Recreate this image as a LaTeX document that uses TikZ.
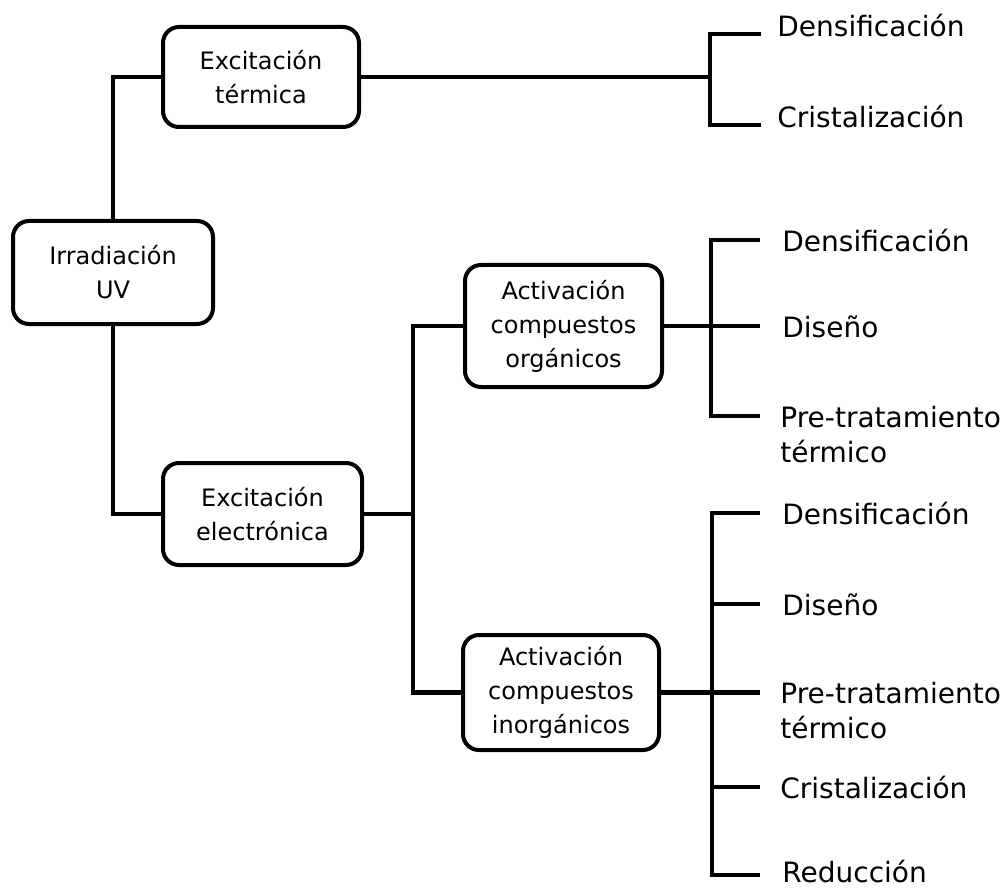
\documentclass[tikz,border=0pt]{standalone}
\usepackage{fontspec}
\setmainfont{DejaVu Sans}
\begin{document}
\begin{tikzpicture}[x=0.5pt,y=-0.5pt,
  box/.style={draw,line width=2pt,rounded corners=8pt,align=center,inner sep=2pt,
    font=\fontsize{12}{17}\selectfont},
  leaf/.style={anchor=base west,inner sep=0pt,font=\fontsize{14}{17.5}\selectfont},
  conn/.style={line width=2.1pt}]
\useasboundingbox (0,0) rectangle (1008,888);
% boxes
\node[box,minimum width=100pt,minimum height=51.5pt] (irr) at (113,272.5) {Irradiación\\UV};
\node[box,minimum width=98pt,minimum height=50pt] (term) at (261,77) {Excitación\\térmica};
\node[box,minimum width=99.5pt,minimum height=51pt] (elec) at (262.5,514) {Excitación\\electrónica};
\node[box,minimum width=98.5pt,minimum height=61pt] (org) at (563.5,326) {Activación\\compuestos\\orgánicos};
\node[box,minimum width=98pt,minimum height=57.5pt] (inorg) at (561,692.5) {Activación\\compuestos\\inorgánicos};
% junctions
\coordinate (jt) at (710,77);
\coordinate (je) at (413,514);
\coordinate (jo) at (711,326);
\coordinate (ji) at (712,692.5);
% leaf line ends
\coordinate (t1) at (761,34);
\coordinate (t2) at (761,125);
\coordinate (o1) at (760,240);
\coordinate (o2) at (760,326);
\coordinate (o3) at (760,416);
\coordinate (i1) at (760,513);
\coordinate (i2) at (760,604);
\coordinate (i3) at (760,692.5);
\coordinate (i4) at (760,787);
\coordinate (i5) at (760,875);
% leaves
\node[leaf,xshift=8pt,yshift=-1.5pt] (lt1) at (t1) {Densificación};
\node[leaf,xshift=8pt,yshift=-1.5pt] (lt2) at (t2) {Cristalización};
\node[leaf,xshift=11pt,yshift=-5.5pt] (lo1) at (o1) {Densificación};
\node[leaf,xshift=11pt,yshift=-5.5pt] (lo2) at (o2) {Diseño};
\node[leaf,xshift=10pt,yshift=-5.5pt] (lo3) at (o3) {\begin{tabular}[t]{@{}l@{}}Pre-tratamiento\\térmico\end{tabular}};
\node[leaf,xshift=11pt,yshift=-5.5pt] (li1) at (i1) {Densificación};
\node[leaf,xshift=11pt,yshift=-5.5pt] (li2) at (i2) {Diseño};
\node[leaf,xshift=10pt,yshift=-5.5pt] (li3) at (i3) {\begin{tabular}[t]{@{}l@{}}Pre-tratamiento\\térmico\end{tabular}};
\node[leaf,xshift=10pt,yshift=-5.5pt] (li4) at (i4) {Cristalización};
\node[leaf,xshift=11pt,yshift=-3.5pt] (li5) at (i5) {Reducción};
% connectors
\draw[conn] (irr.north) |- (term.west);
\draw[conn] (irr.south) |- (elec.west);
\draw[conn] (term.east) -- (jt);
\draw[conn] (t1) -| (jt) |- (t2);
\draw[conn] (elec.east) -- (je);
\draw[conn] (org.west) -| (je) |- (inorg.west);
\draw[conn] (org.east) -- (jo) -- (o2);
\draw[conn] (o1) -| (jo) |- (o3);
\draw[conn] (inorg.east) -- (ji) -- (i3);
\draw[conn] (i1) -| (ji) |- (i5);
\draw[conn] (ji |- i2) -- (i2);
\draw[conn] (ji |- i4) -- (i4);
\end{tikzpicture}
\end{document}
